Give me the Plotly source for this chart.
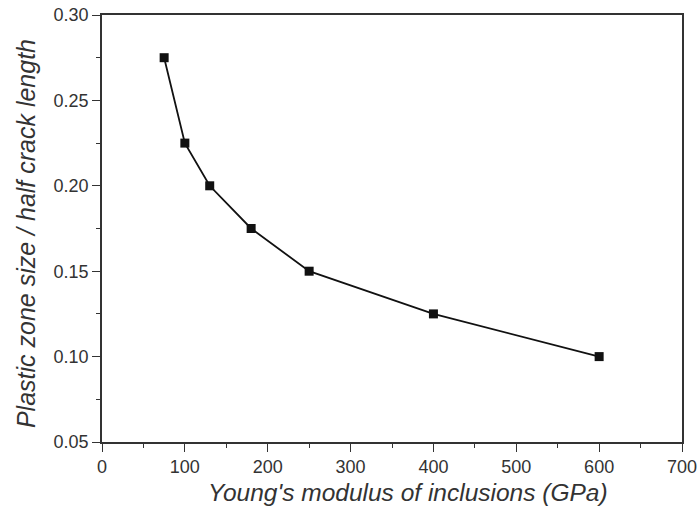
import plotly.graph_objects as go

modulus = [75, 100, 130, 180, 250, 400, 600]
zone_ratio = [0.275, 0.225, 0.200, 0.175, 0.150, 0.125, 0.100]

x_title = "Young's modulus of inclusions (GPa)"
y_title = "Plastic zone size / half crack length"

fig = go.Figure()
fig.add_trace(go.Scatter(
    x=modulus, y=zone_ratio, mode="lines+markers",
    line=dict(color="#111111", width=1.8),
    marker=dict(symbol="square", size=9, color="#111111"),
    showlegend=False,
))

axis_common = dict(
    showgrid=False, zeroline=False, showline=True, linecolor="#333333", linewidth=1.5,
    mirror=True, ticks="outside", ticklen=8, tickwidth=1.3, tickcolor="#333333",
    tickfont=dict(family="Liberation Sans, Arial", size=18, color="#333333"),
    automargin=False,
)

fig.update_xaxes(
    range=[0, 700], tickvals=[0, 100, 200, 300, 400, 500, 600, 700],
    minor=dict(ticks="outside", ticklen=4, tickwidth=1.3, tickcolor="#333333", dtick=50, tick0=0),
    **axis_common,
)
fig.update_yaxes(
    range=[0.05, 0.30], tickvals=[0.05, 0.10, 0.15, 0.20, 0.25, 0.30], tickformat=".2f",
    minor=dict(ticks="outside", ticklen=4, tickwidth=1.3, tickcolor="#333333", dtick=0.025, tick0=0.05),
    **axis_common,
)

title_font = dict(family="Liberation Sans, Arial", size=24.5, color="#333333", style="italic")
fig.add_annotation(text=x_title, xref="paper", yref="paper", x=0.528, y=0,
                   xanchor="center", yanchor="middle", yshift=-50, showarrow=False,
                   font=title_font)
fig.add_annotation(text=y_title, xref="paper", yref="paper", x=0, y=0.487,
                   xanchor="center", yanchor="middle", xshift=-76, showarrow=False,
                   textangle=-90, font=dict(title_font, size=25))

fig.update_layout(
    width=699, height=509,
    margin=dict(l=102, r=17, t=15, b=67),
    plot_bgcolor="white", paper_bgcolor="white",
)

fig.write_html("out.html")
